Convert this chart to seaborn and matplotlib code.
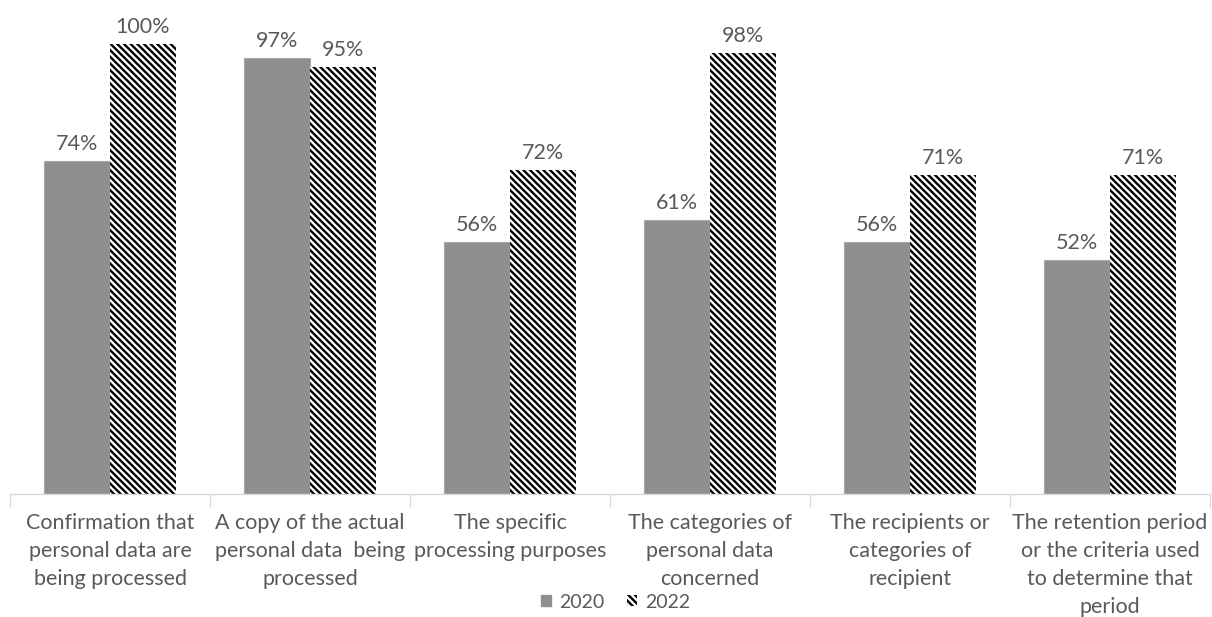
import matplotlib
matplotlib.use("Agg")
import matplotlib.pyplot as plt
import matplotlib.patches as mpatches
import seaborn as sns
import pandas as pd

categories = [
    "Confirmation that\npersonal data are\nbeing processed",
    "A copy of the actual\npersonal data  being\nprocessed",
    "The specific\nprocessing purposes",
    "The categories of\npersonal data\nconcerned",
    "The recipients or\ncategories of\nrecipient",
    "The retention period\nor the criteria used\nto determine that\nperiod",
]
years = ["2020", "2022"]
values_2020 = [74, 97, 56, 61, 56, 52]
values_2022 = [100, 95, 72, 98, 71, 71]

df = pd.DataFrame({
    "category": categories * 2,
    "year": [years[0]] * len(categories) + [years[1]] * len(categories),
    "value": [v / 100 for v in values_2020 + values_2022],
})

sns.set_theme(style="white")
plt.rcParams["font.family"] = ["Lato", "DejaVu Sans"]
plt.rcParams["hatch.linewidth"] = 1.7
plt.rcParams["hatch.color"] = "black"

text_color = "#595959"
gray = "#8f8f8f"
hatch = "\\" * 5
fs = 15.5

fig = plt.figure(figsize=(12.12, 6.17), dpi=100)
ax = fig.add_axes([10 / 1212, 1 - 494 / 617, 1200 / 1212, 450 / 617])

sns.barplot(data=df, x="category", y="value", hue="year",
            palette=[gray, "white"], width=0.66, saturation=1,
            legend=False, ax=ax)

# first series: solid gray with a faint lighter outline
for bar in ax.containers[0]:
    bar.set_edgecolor("#a8a8a8")
    bar.set_linewidth(0.8)
# second series: white with dense black diagonal hatching
for bar in ax.containers[1]:
    bar.set_facecolor("white")
    bar.set_hatch(hatch)
    bar.set_edgecolor("black")
    bar.set_linewidth(0)

for cont in ax.containers:
    ax.bar_label(cont, labels=[f"{round(b.get_height() * 100)}%" for b in cont],
                 padding=5, fontsize=fs, color=text_color)

ax.set_xlim(-0.5, len(categories) - 0.5)
ax.set_ylim(0, 1.0)
ax.set_xlabel("")
ax.set_ylabel("")
ax.set_yticks([])
for side in ["left", "right", "top"]:
    ax.spines[side].set_visible(False)
ax.spines["bottom"].set_color("#d9d9d9")
ax.spines["bottom"].set_linewidth(1.0)

ax.set_xticks(range(len(categories)))
ax.set_xticklabels(categories, fontsize=fs, color=text_color, linespacing=1.49)
ax.tick_params(axis="x", which="major", length=0, pad=14)
ax.set_xticks([i - 0.5 for i in range(len(categories) + 1)], minor=True)
ax.tick_params(axis="x", which="minor", length=9, color="#d9d9d9", width=1.0,
               direction="out", bottom=True)

handles = [
    mpatches.Patch(facecolor=gray, edgecolor=gray, label="2020"),
    mpatches.Patch(facecolor="white", edgecolor="black", hatch=hatch,
                   linewidth=0, label="2022"),
]
fig.legend(handles=handles, loc="center", bbox_to_anchor=(0.508, 1 - 602 / 617),
           ncol=2, frameon=False, fontsize=14, labelcolor=text_color,
           handlelength=0.5, handleheight=0.5, handletextpad=0.4,
           columnspacing=1.2)

fig.savefig("out.png", dpi=100)
